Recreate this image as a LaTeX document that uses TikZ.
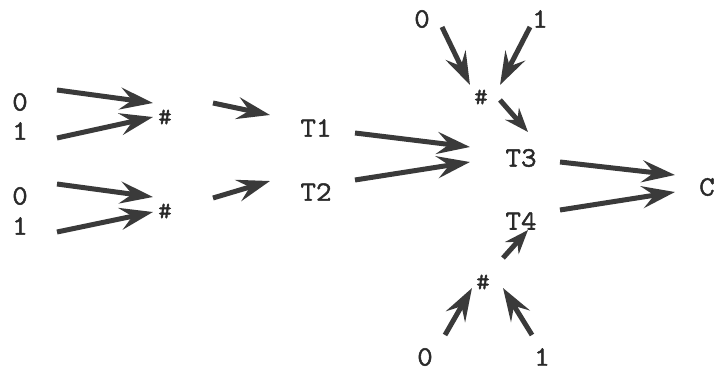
\documentclass[tikz,border=0pt]{standalone}
\usepackage{fontspec}
\newfontfamily\typefont{Latin Modern Mono}[FakeBold=1.6,FakeStretch=1.08]
\usetikzlibrary{arrows.meta}
\definecolor{ink}{HTML}{3A3A3A}
\definecolor{tink}{HTML}{2A2A2A}
\begin{document}
\begin{tikzpicture}[x=1pt,y=-1pt,
  lbl/.style={font=\typefont\fontsize{28}{28}\selectfont, text=tink, inner sep=0pt},
  hash/.style={font=\typefont\fontsize{24}{24}\selectfont, text=tink, inner sep=0pt},
  arr/.style={draw=ink, line width=5pt, -{Stealth[length=33pt,width=22pt,inset=12pt]}},
  sarr/.style={draw=ink, line width=5pt, -{Stealth[length=24pt,width=18pt,inset=8pt]}}]
\useasboundingbox (0,0) rectangle (718,372);
% labels
\node[lbl] (a0) at (20,102) {0};
\node[lbl] (a1) at (20,131) {1};
\node[lbl] (b0) at (20,196) {0};
\node[lbl] (b1) at (20,226) {1};
\node[hash] (h1) at (165,117) {\#};
\node[hash] (h2) at (165,211) {\#};
\node[lbl] (T1) at (316,128) {T1};
\node[lbl] (T2) at (316,192) {T2};
\node[lbl] (T3) at (521,158) {T3};
\node[lbl] (T4) at (521,221) {T4};
\node[lbl] (c0) at (422,19) {0};
\node[lbl] (c1) at (540,19) {1};
\node[hash] (h3) at (481,97) {\#};
\node[lbl] (d0) at (425,357) {0};
\node[lbl] (d1) at (542,357) {1};
\node[hash] (h4) at (483,282) {\#};
\node[lbl, anchor=west] (C) at (699,187) {C};
% arrow end points
\coordinate (p1s) at (57,90);   \coordinate (p1e) at (153,103);
\coordinate (p2s) at (57,138);  \coordinate (p2e) at (153,117);
\coordinate (p3s) at (213,103); \coordinate (p3e) at (270,115);
\coordinate (p4s) at (57,184);  \coordinate (p4e) at (153,197);
\coordinate (p5s) at (57,232);  \coordinate (p5e) at (153,212);
\coordinate (p6s) at (213,198); \coordinate (p6e) at (270,181);
\coordinate (p7s) at (355,133); \coordinate (p7e) at (470,147);
\coordinate (p8s) at (355,180); \coordinate (p8e) at (470,162);
\coordinate (p9s) at (442,27);  \coordinate (p9e) at (470,85);
\coordinate (p10s) at (530,27); \coordinate (p10e) at (500,85);
\coordinate (p11s) at (500,100);\coordinate (p11e) at (528,132);
\coordinate (p12s) at (560,162);\coordinate (p12e) at (675,175);
\coordinate (p13s) at (560,210);\coordinate (p13e) at (675,192);
\coordinate (p14s) at (503,258);\coordinate (p14e) at (528,230);
\coordinate (p15s) at (445,335);\coordinate (p15e) at (472,288);
\coordinate (p16s) at (532,335);\coordinate (p16e) at (503,288);
% arrows
\draw[arr] (p1s) -- (p1e);
\draw[arr] (p2s) -- (p2e);
\draw[arr] (p3s) -- (p3e);
\draw[arr] (p4s) -- (p4e);
\draw[arr] (p5s) -- (p5e);
\draw[arr] (p6s) -- (p6e);
\draw[arr] (p7s) -- (p7e);
\draw[arr] (p8s) -- (p8e);
\draw[arr] (p9s) -- (p9e);
\draw[arr] (p10s) -- (p10e);
\draw[sarr] (p11s) -- (p11e);
\draw[arr] (p12s) -- (p12e);
\draw[arr] (p13s) -- (p13e);
\draw[sarr] (p14s) -- (p14e);
\draw[arr] (p15s) -- (p15e);
\draw[arr] (p16s) -- (p16e);
\end{tikzpicture}
\end{document}
